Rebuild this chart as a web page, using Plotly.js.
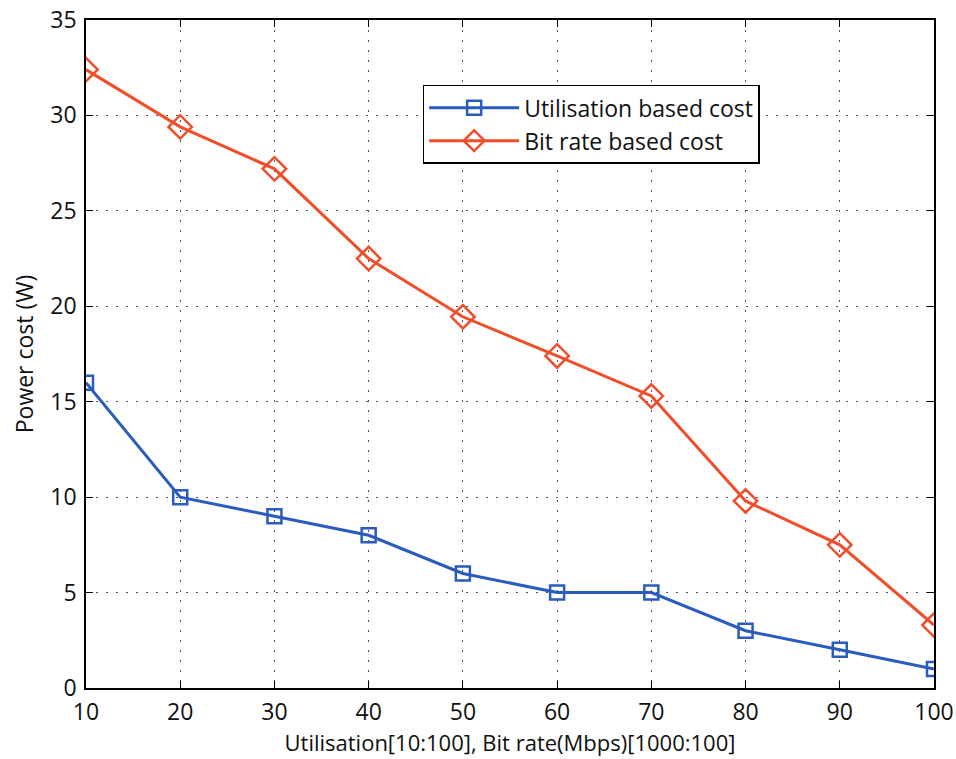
<!DOCTYPE html>
<html><head><meta charset="utf-8">
<script src="https://cdn.plot.ly/plotly-3.0.1.min.js"></script>
<style>body{margin:0;background:#fff}#chart{width:956px;height:759px}</style>
</head><body><div id="chart"></div>
<script>
const xValues = [10, 20, 30, 40, 50, 60, 70, 80, 90, 100];
const utilisationCost = [16, 10, 9, 8, 6, 5, 5, 3, 2, 1];
const bitRateCost = [32.4, 29.4, 27.2, 22.5, 19.45, 17.4, 15.3, 9.8, 7.5, 3.3];
const xTicks = [10, 20, 30, 40, 50, 60, 70, 80, 90, 100];
const yTicks = [0, 5, 10, 15, 20, 25, 30, 35];

const font = "Open Sans, Noto Sans, sans-serif";
const traces = [
  {x: xValues, y: utilisationCost, name: "Utilisation based cost", mode: "lines+markers",
   line: {color: "#2a5cbf", width: 3},
   marker: {symbol: "square-open", size: 14, color: "#2a5cbf", line: {width: 2.5, color: "#2a5cbf"}}},
  {x: xValues, y: bitRateCost, name: "Bit rate based cost", mode: "lines+markers",
   line: {color: "#f04e2a", width: 3},
   marker: {symbol: "diamond-open", size: 18, color: "#f04e2a", line: {width: 2.5, color: "#f04e2a"}}}
];
const axisCommon = {
  showline: true, mirror: "ticks", linecolor: "#000", linewidth: 1.5,
  ticks: "inside", ticklen: 7, tickcolor: "#000",
  showgrid: true, gridcolor: "#555", griddash: "2px,8px", gridwidth: 1.2,
  zeroline: false, tickfont: {family: font, size: 23, color: "#111"}
};
const layout = {
  width: 956, height: 759,
  margin: {l: 86, r: 22, t: 20, b: 71},
  paper_bgcolor: "#fff", plot_bgcolor: "#fff",
  showlegend: true,
  legend: {x: 0.397, y: 0.903, xanchor: "left", yanchor: "top",
    bgcolor: "#fff", bordercolor: "#000", borderwidth: 1.5,
    font: {family: font, size: 23, color: "#111"}, tracegroupgap: 0,
    itemwidth: 90},
  xaxis: Object.assign({}, axisCommon, {range: [10, 100], tickvals: xTicks,
    ticklabelstandoff: 3,
    title: {text: "Utilisation[10:100], Bit rate(Mbps)[1000:100]", font: {family: font, size: 22, color: "#111"}, standoff: 6}}),
  yaxis: Object.assign({}, axisCommon, {range: [0, 35], tickvals: yTicks,
    ticklabelstandoff: 3,
    title: {text: "Power cost (W)", font: {family: font, size: 23, color: "#111"}, standoff: 10}})
};
Plotly.newPlot("chart", traces, layout, {displayModeBar: false});
</script></body></html>
